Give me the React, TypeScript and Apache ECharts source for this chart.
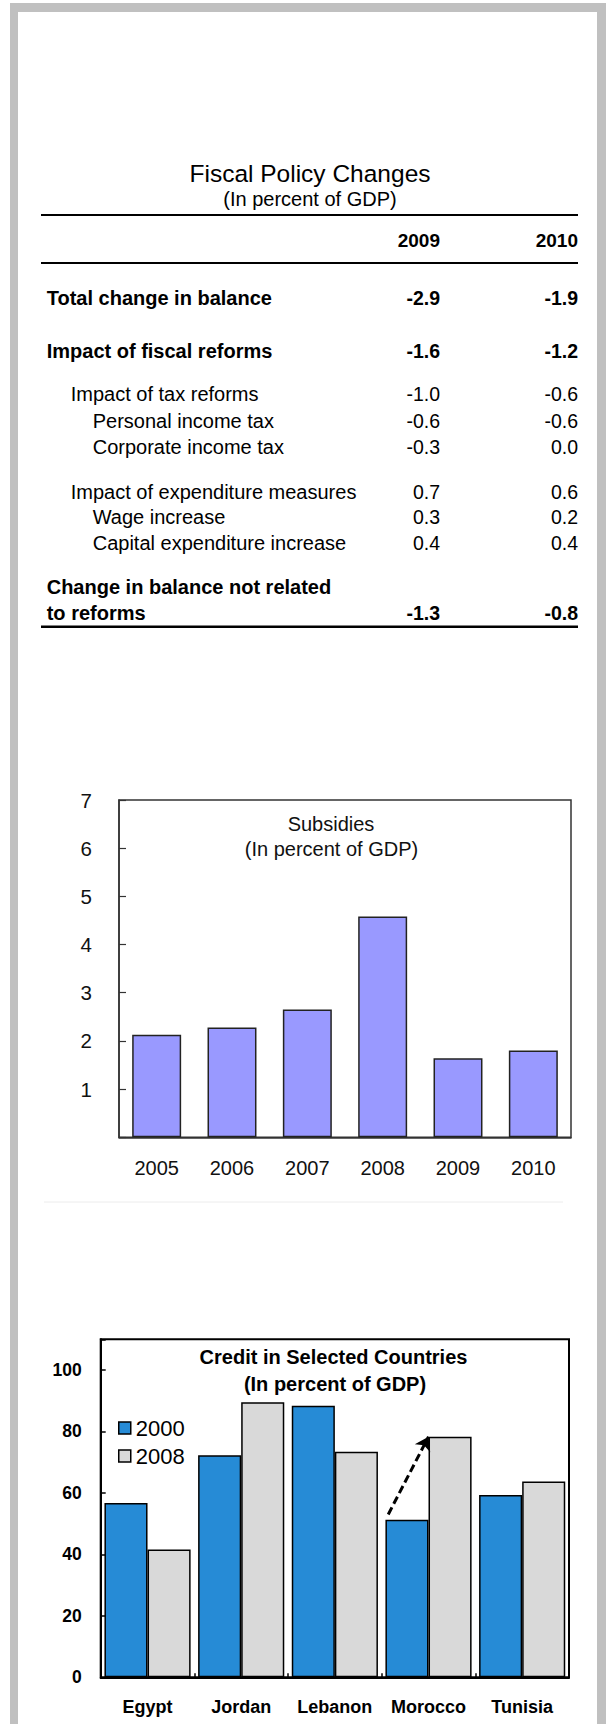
import React, { useEffect, useRef } from "react";
import * as echarts from "echarts";

const FONT = "'Liberation Sans', Arial, Helvetica, sans-serif";

// ---------- Table data ----------
const tableTitle = "Fiscal Policy Changes";
const tableSubtitle = "(In percent of GDP)";
const tableYears = ["2009", "2010"];
const rowLabels = [
  "Total change in balance",
  "Impact of fiscal reforms",
  "Impact of tax reforms",
  "Personal income tax",
  "Corporate income tax",
  "Impact of expenditure measures",
  "Wage increase",
  "Capital expenditure increase",
  "Change in balance not related\nto reforms",
];
const values2009 = [-2.9, -1.6, -1.0, -0.6, -0.3, 0.7, 0.3, 0.4, -1.3];
const values2010 = [-1.9, -1.2, -0.6, -0.6, 0.0, 0.6, 0.2, 0.4, -0.8];

// ---------- Subsidies chart data ----------
const subsidyTitle = "Subsidies";
const subsidySubtitle = "(In percent of GDP)";
const subsidyYears = ["2005", "2006", "2007", "2008", "2009", "2010"];
const subsidyValues = [2.13, 2.28, 2.65, 4.58, 1.64, 1.8];
const subsidyTicks = [1, 2, 3, 4, 5, 6, 7];

// ---------- Credit chart data ----------
const creditTitle = "Credit in Selected Countries";
const creditSubtitle = "(In percent of GDP)";
const countries = ["Egypt", "Jordan", "Lebanon", "Morocco", "Tunisia"];
const seriesNames = ["2000", "2008"];
const credit2000 = [56.7, 72.3, 88.4, 51.3, 59.3];
const credit2008 = [41.6, 89.5, 73.4, 78.3, 63.7];
const creditTicks = [0, 20, 40, 60, 80, 100];
// arrow annotation, in (category-index space, value)
const arrowStart = [3.07, 53];
const arrowEnd = [3.5, 78.3];

// ---------- Layout (not data) ----------
const ROW_Y = [298, 350.7, 394, 421, 447, 491.7, 516.7, 543, 613];
const ROW_X = [46.7, 46.7, 70.7, 92.7, 92.7, 70.7, 92.7, 92.7, 46.7];
const ROW_BOLD = [true, true, false, false, false, false, false, false, true];
const LINE_STEP = 26.3;
const COL_X = [440, 578];

function buildGraphic() {
  const g: any[] = [];
  const gray = "#c0c0c0";
  // frame
  g.push({ type: "rect", shape: { x: 10, y: 3, width: 8, height: 1730 }, style: { fill: gray }, silent: true });
  g.push({ type: "rect", shape: { x: 10, y: 3, width: 600, height: 9 }, style: { fill: gray }, silent: true });
  g.push({ type: "rect", shape: { x: 597, y: 3, width: 13, height: 1730 }, style: { fill: gray }, silent: true });

  const txt = (text: string, x: number, y: number, size: number, bold: boolean, align = "left", color = "#000") => ({
    type: "text",
    x,
    y,
    silent: true,
    style: {
      text,
      fontSize: size,
      fontWeight: bold ? "bold" : "normal",
      fontFamily: FONT,
      fill: color,
      textAlign: align,
      textVerticalAlign: "middle",
    },
  });
  const hline = (y: number, w: number, x1 = 41, x2 = 578, color = "#000") => ({
    type: "line",
    silent: true,
    shape: { x1, y1: y, x2, y2: y },
    style: { stroke: color, lineWidth: w },
  });

  // table
  g.push(txt(tableTitle, 310, 173, 24.5, false, "center"));
  g.push(txt(tableSubtitle, 310, 198.5, 20, false, "center"));
  g.push(hline(215, 2));
  tableYears.forEach((yr, i) => g.push(txt(yr, COL_X[i], 240, 19, true, "right")));
  g.push(hline(263, 2));
  rowLabels.forEach((lab, i) => {
    const lines = lab.split("\n");
    lines.forEach((ln, j) => {
      const y = ROW_Y[i] - (lines.length - 1 - j) * LINE_STEP;
      g.push(txt(ln, ROW_X[i], y, 20, ROW_BOLD[i]));
    });
    g.push(txt(values2009[i].toFixed(1), COL_X[0], ROW_Y[i], 19.5, ROW_BOLD[i], "right"));
    g.push(txt(values2010[i].toFixed(1), COL_X[1], ROW_Y[i], 19.5, ROW_BOLD[i], "right"));
  });
  g.push(hline(626.7, 2.5));

  // faint separator
  g.push(hline(1202, 1, 44, 563, "#ececec"));

  // subsidies title
  g.push(txt(subsidyTitle, 331, 823.5, 20, false, "center", "#111"));
  g.push(txt(subsidySubtitle, 331.5, 848.5, 20, false, "center", "#111"));

  // credit title
  g.push(txt(creditTitle, 333.5, 1357, 20, true, "center"));
  g.push(txt(creditSubtitle, 335, 1383.5, 20, true, "center"));
  return g;
}

export default function App() {
  const ref = useRef<HTMLDivElement>(null);
  useEffect(() => {
    if (!ref.current) return;
    const chart = echarts.init(ref.current, undefined, { renderer: "svg" });
    const option: any = {
      animation: false,
      backgroundColor: "#ffffff",
      textStyle: { fontFamily: FONT },
      grid: [
        { left: 119, top: 800, width: 452, height: 337.3, show: true, borderColor: "#333", borderWidth: 1.5, backgroundColor: "transparent" },
        { left: 100.7, top: 1339.3, width: 468.3, height: 338, show: true, borderColor: "#000", borderWidth: 2, backgroundColor: "transparent" },
      ],
      xAxis: [
        {
          type: "category",
          gridIndex: 0,
          data: subsidyYears,
          axisLine: { lineStyle: { color: "#333", width: 1.5 } },
          axisTick: { show: false },
          axisLabel: { interval: 0, fontSize: 20, color: "#111", margin: 21, fontFamily: FONT },
        },
        {
          type: "category",
          gridIndex: 1,
          data: countries,
          axisLine: { lineStyle: { color: "#000", width: 2 } },
          axisTick: { show: true, inside: true, length: 4, lineStyle: { color: "#000", width: 1.5 } },
          axisLabel: { interval: 0, fontSize: 18, fontWeight: "bold", color: "#000", margin: 21, fontFamily: FONT },
        },
        { type: "value", gridIndex: 1, min: 0, max: countries.length, show: false },
      ],
      yAxis: [
        {
          type: "value",
          gridIndex: 0,
          min: 0,
          max: 7,
          interval: 1,
          axisLine: { show: true, lineStyle: { color: "#333", width: 1.5 } },
          axisTick: { show: true, inside: true, length: 7, lineStyle: { color: "#333", width: 1.2 } },
          splitLine: { show: false },
          axisLabel: {
            fontSize: 20.5,
            color: "#111",
            margin: 27,
            fontFamily: FONT,
            formatter: (v: number) => (subsidyTicks.includes(v) ? String(v) : ""),
          },
        },
        {
          type: "value",
          gridIndex: 1,
          min: 0,
          max: 110,
          interval: 20,
          axisLine: { show: true, lineStyle: { color: "#000", width: 2 } },
          axisTick: { show: true, inside: true, length: 5, lineStyle: { color: "#000", width: 1.5 } },
          splitLine: { show: false },
          axisLabel: {
            fontSize: 17.5,
            fontWeight: "bold",
            color: "#000",
            margin: 19,
            fontFamily: FONT,
            formatter: (v: number) => (creditTicks.includes(v) ? String(v) : ""),
          },
        },
      ],
      legend: {
        data: seriesNames,
        orient: "vertical",
        left: 118,
        top: 1417,
        padding: 0,
        itemWidth: 12,
        itemHeight: 12,
        itemGap: 6,
        icon: "rect",
        itemStyle: { borderColor: "#000", borderWidth: 1.5 },
        textStyle: { fontSize: 22, color: "#000", fontFamily: FONT, lineHeight: 21 },
      },
      series: [
        {
          type: "bar",
          xAxisIndex: 0,
          yAxisIndex: 0,
          data: subsidyValues,
          barCategoryGap: "35%",
          itemStyle: { color: "#9999ff", borderColor: "#222", borderWidth: 1.5 },
        },
        {
          name: seriesNames[0],
          type: "bar",
          xAxisIndex: 1,
          yAxisIndex: 1,
          data: credit2000,
          barGap: "0%",
          barCategoryGap: "8%",
          itemStyle: { color: "#268bd6", borderColor: "#000", borderWidth: 1.5 },
        },
        {
          name: seriesNames[1],
          type: "bar",
          xAxisIndex: 1,
          yAxisIndex: 1,
          data: credit2008,
          barGap: "0%",
          barCategoryGap: "8%",
          itemStyle: { color: "#d9d9d9", borderColor: "#000", borderWidth: 1.5 },
        },
        {
          type: "line",
          xAxisIndex: 2,
          yAxisIndex: 1,
          data: [arrowStart, arrowEnd],
          symbol: "none",
          showSymbol: false,
          silent: true,
          z: 5,
          itemStyle: { color: "#000" },
          lineStyle: { width: 0, color: "#000" },
          markLine: {
            silent: true,
            symbol: ["none", "arrow"],
            symbolSize: 13,
            label: { show: false },
            emphasis: { disabled: true },
            itemStyle: { color: "#000" },
            lineStyle: { type: [8, 4], color: "#000", width: 3, opacity: 1 },
            data: [[{ coord: arrowStart }, { coord: arrowEnd }]],
          },
        },
      ],
      graphic: buildGraphic(),
    };
    chart.setOption(option);
    return () => chart.dispose();
  }, []);
  return (
    <div
      ref={ref}
      style={{ position: "absolute", left: 0, top: 0, width: 606, height: 1724 }}
    />
  );
}
